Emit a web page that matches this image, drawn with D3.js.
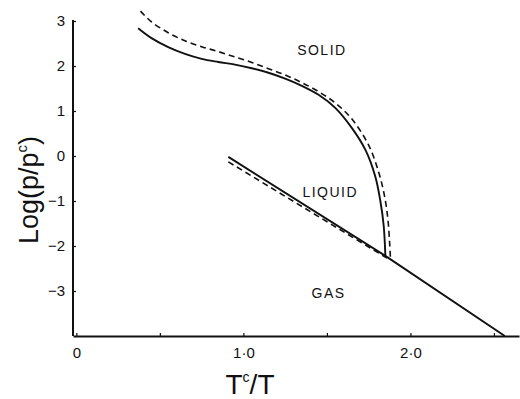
<!DOCTYPE html>
<html><head><meta charset="utf-8">
<script src="https://cdn.jsdelivr.net/npm/d3@7"></script>
<style>body{margin:0;background:#fff}text{font-family:"Liberation Sans",Arial,sans-serif;fill:#111}</style>
</head><body>
<svg id="c" width="520" height="399"></svg>
<script>
// Data (x = Tc/T, y = log(p/pc))
const meltSolid = [[0.37,2.84],[0.45,2.62],[0.55,2.42],[0.65,2.27],[0.75,2.16],[0.85,2.09],[0.95,2.03],[1.05,1.95],[1.15,1.85],[1.25,1.72],[1.35,1.56],[1.45,1.36],[1.55,1.07],[1.65,0.62],[1.73,0.14],[1.79,-0.46],[1.82,-1.0],[1.84,-1.55],[1.85,-2.22]];
const meltDashed = [[0.384,3.22],[0.45,2.98],[0.55,2.74],[0.65,2.56],[0.75,2.43],[0.85,2.32],[0.95,2.2],[1.05,2.08],[1.15,1.94],[1.25,1.8],[1.35,1.63],[1.45,1.43],[1.55,1.18],[1.65,0.82],[1.75,0.24],[1.81,-0.36],[1.845,-0.89],[1.865,-1.4],[1.875,-1.9],[1.88,-2.25]];
const vapourSolid = [[0.91,-0.02],[1.85,-2.22],[2.565,-4.0]];
const vapourDashed = [[0.91,-0.13],[1.86,-2.27]];
const xTicks = [0,0.5,1,1.5,2,2.5];
const xTickLabels = {0:"0",1:"1·0",2:"2·0"};
const yTicks = [-3,-2,-1,0,1,2,3];
const regionLabels = [{t:"SOLID",x:1.47,y:2.36},{t:"LIQUID",x:1.52,y:-0.8},{t:"GAS",x:1.51,y:-3.04}];

const svg = d3.select("#c");
const x = d3.scaleLinear().domain([-0.02,2.65]).range([73,519]);
const y = d3.scaleLinear().domain([-4,3]).range([336,21]);

// axes
const gx = svg.append("g").attr("transform","translate(0,336)")
  .call(d3.axisBottom(x).tickValues(xTicks).tickSizeInner(-3).tickSizeOuter(0).tickFormat(d=>xTickLabels[d]||""));
gx.select(".domain").attr("stroke","#111").attr("stroke-width",2);
gx.selectAll(".tick line").attr("stroke","#111").attr("stroke-width",1.2);
gx.selectAll(".tick text").attr("font-size",15).attr("y",8).attr("dy","0.9em").style("font-family","Liberation Sans, Arial, sans-serif");

const gy = svg.append("g").attr("transform","translate(73,0)")
  .call(d3.axisLeft(y).tickValues(yTicks).tickSizeInner(-3).tickSizeOuter(0).tickFormat(d3.format("d")));
gy.select(".domain").attr("stroke","#111").attr("stroke-width",2).attr("d","M0,20V336");
gy.selectAll(".tick line").attr("stroke","#111").attr("stroke-width",1.2);
gy.selectAll(".tick text").attr("font-size",15).attr("x",-8).style("font-family","Liberation Sans, Arial, sans-serif");

const lin = d3.line().x(d=>x(d[0])).y(d=>y(d[1]));
const crv = d3.line().x(d=>x(d[0])).y(d=>y(d[1])).curve(d3.curveCatmullRom.alpha(0.5));

svg.append("path").attr("d",crv(meltSolid)).attr("fill","none").attr("stroke","#111").attr("stroke-width",1.9);
svg.append("path").attr("d",crv(meltDashed)).attr("fill","none").attr("stroke","#111").attr("stroke-width",1.6).attr("stroke-dasharray","6,4");
svg.append("path").attr("d",lin(vapourSolid)).attr("fill","none").attr("stroke","#111").attr("stroke-width",1.9);
svg.append("path").attr("d",lin(vapourDashed)).attr("fill","none").attr("stroke","#111").attr("stroke-width",1.6).attr("stroke-dasharray","6,4");

svg.selectAll("text.reg").data(regionLabels).enter().append("text").attr("class","reg")
  .attr("x",d=>x(d.x)).attr("y",d=>y(d.y)).attr("text-anchor","middle").attr("dominant-baseline","central")
  .attr("font-size",14).attr("letter-spacing","1.5px").text(d=>d.t);

// axis titles
const yl = svg.append("text").attr("transform","translate(38,190) rotate(-90)").attr("text-anchor","middle")
  .attr("font-size",27);
yl.append("tspan").text("Log(p/p");
yl.append("tspan").attr("font-size",15).attr("dy","-11").text("c");
yl.append("tspan").attr("dy","11").text(")");

const xl = svg.append("text").attr("x",250).attr("y",394).attr("text-anchor","middle").attr("font-size",28);
xl.append("tspan").text("T");
xl.append("tspan").attr("font-size",14).attr("dy","-12").text("c");
xl.append("tspan").attr("dy","12").text("/T");
</script>
</body></html>
